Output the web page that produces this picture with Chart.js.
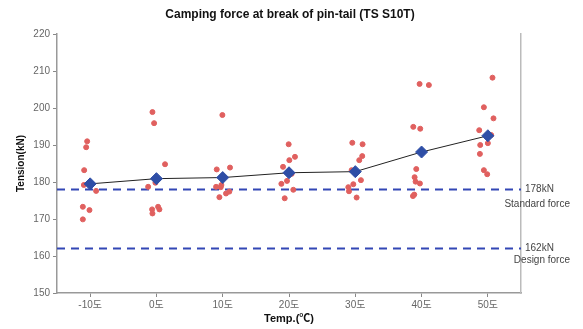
<!DOCTYPE html>
<html lang="ko">
<head>
<meta charset="UTF-8">
<title>Camping force at break of pin-tail</title>
<script src="https://cdn.jsdelivr.net/npm/chart.js"></script>
<style>
    body { margin: 0; background: #ffffff; }
    #wrap { width: 583px; height: 329px; }
</style>
</head>
<body>
<div id="wrap"><canvas id="chart"></canvas></div>
<script>
    const temps = [-10, 0, 10, 20, 30, 40, 50];
    const meanForce = [179.5, 180.9, 181.2, 182.5, 182.8, 188.1, 192.5];

    // individual test results, x = temperature as placed in the plot
    const samplesX = [
        -10.45, -10.6, -10.9, -10.95, -9.1, -11.1, -10.1, -11.1,
        -0.6, -0.35, 1.3, -1.25, -0.15, -0.65, 0.25, 0.45, -0.6,
        9.95, 9.1, 11.1, 9.0, 9.8, 9.7, 10.5, 11.0, 9.5,
        19.95, 20.9, 20.05, 19.1, 20.4, 19.7, 18.85, 20.65, 19.35,
        29.55, 31.1, 31.05, 30.6, 29.45, 30.85, 29.7, 28.95, 29.05, 30.2,
        39.7, 41.1, 38.75, 39.8, 39.2, 38.95, 39.1, 39.75, 38.9, 38.7,
        50.7, 49.4, 50.85, 48.7, 50.5, 48.85, 50.0, 48.8, 49.4, 49.9
    ];
    const samplesY = [
        191.0, 189.4, 183.2, 179.2, 177.6, 173.3, 172.4, 169.9,
        198.9, 195.9, 184.8, 178.7, 179.8, 172.6, 173.3, 172.6, 171.5,
        198.1, 183.4, 183.9, 178.7, 179.2, 178.6, 176.9, 177.4, 175.9,
        190.2, 186.8, 185.9, 184.1, 182.2, 180.3, 179.5, 177.9, 175.6,
        190.6, 190.2, 187.0, 185.9, 183.2, 180.5, 179.4, 178.6, 177.5, 175.8,
        206.5, 206.2, 194.9, 194.4, 183.5, 181.3, 180.1, 179.6, 176.6, 176.2,
        208.2, 200.2, 197.2, 194.0, 192.7, 190.0, 190.5, 187.6, 183.2, 182.1
    ];

    const standardForce = 178;
    const designForce = 162;
    const yTicks = [150, 160, 170, 180, 190, 200, 210, 220];

    const fontFam = "'Liberation Sans', Arial, 'Noto Sans CJK KR', sans-serif";

    const refLabels = {
        id: 'refLabels',
        afterDraw(chart) {
            const ctx = chart.ctx;
            const y = chart.scales.y;
            const area = chart.chartArea;
            ctx.save();
            // title
            ctx.fillStyle = '#111';
            ctx.font = 'bold 12px ' + fontFam;
            ctx.textAlign = 'center';
            ctx.textBaseline = 'middle';
            ctx.fillText('Camping force at break of pin-tail (TS S10T)', 290, 15);

            // reference line labels
            ctx.fillStyle = '#444';
            ctx.font = '10px ' + fontFam;
            ctx.textAlign = 'left';
            const ys = y.getPixelForValue(standardForce);
            const yd = y.getPixelForValue(designForce);
            ctx.fillText(standardForce + 'kN', area.right + 4, ys);
            ctx.fillText(designForce + 'kN', area.right + 4, yd);
            ctx.textAlign = 'right';
            ctx.fillText('Standard force', 570, ys + 15);
            ctx.fillText('Design force', 570, yd + 12);
            ctx.restore();
        }
    };

    const ctx = document.getElementById('chart').getContext('2d');
    new Chart(ctx, {
        data: {
            datasets: [
                {
                    type: 'line',
                    data: [{x: -15, y: standardForce}, {x: 55, y: standardForce}],
                    borderColor: '#3347b5',
                    borderWidth: 2,
                    borderDash: [8, 6],
                    pointRadius: 0,
                    order: 4
                },
                {
                    type: 'line',
                    data: [{x: -15, y: designForce}, {x: 55, y: designForce}],
                    borderColor: '#3347b5',
                    borderWidth: 2,
                    borderDash: [8, 6],
                    pointRadius: 0,
                    order: 4
                },
                {
                    type: 'scatter',
                    data: samplesX.map((x, i) => ({x: x, y: samplesY[i]})),
                    backgroundColor: '#e0605f',
                    borderColor: '#e0605f',
                    pointRadius: 2.5,
                    order: 3
                },
                {
                    type: 'line',
                    data: temps.map((t, i) => ({x: t, y: meanForce[i]})),
                    borderColor: '#222',
                    borderWidth: 1,
                    pointStyle: 'rectRot',
                    pointRadius: 6,
                    pointBackgroundColor: '#2e4ea6',
                    pointBorderColor: '#2e4ea6',
                    order: 1
                }
            ]
        },
        options: {
            responsive: true,
            maintainAspectRatio: false,
            animation: false,
            layout: { padding: { top: 34, right: 62, left: 0, bottom: 0 } },
            plugins: {
                legend: { display: false },
                tooltip: { enabled: false }
            },
            scales: {
                x: {
                    type: 'linear',
                    min: -15,
                    max: 55,
                    afterBuildTicks: axis => { axis.ticks = temps.map(v => ({value: v})); },
                    afterFit: axis => { axis.height = 36; },
                    grid: { drawOnChartArea: false, tickLength: 4, color: '#888' },
                    border: { color: '#999', width: 1.5 },
                    ticks: {
                        color: '#666',
                        font: { size: 10, family: fontFam },
                        padding: 2,
                        maxRotation: 0,
                        callback: v => v + '도'
                    },
                    title: {
                        display: true,
                        text: 'Temp.(℃)',
                        color: '#111',
                        font: { size: 11, weight: 'bold', family: fontFam },
                        padding: { top: 0, bottom: 3 }
                    }
                },
                y: {
                    min: 150,
                    max: 220,
                    afterBuildTicks: axis => { axis.ticks = yTicks.map(v => ({value: v})); },
                    afterFit: axis => { axis.width = 57; },
                    grid: { drawOnChartArea: false, tickLength: 4, color: '#888' },
                    border: { color: '#999', width: 1.5 },
                    ticks: {
                        color: '#666',
                        font: { size: 10, family: fontFam },
                        padding: 3
                    },
                    title: {
                        display: true,
                        text: 'Tension(kN)',
                        color: '#111',
                        font: { size: 10, weight: 'bold', family: fontFam },
                        padding: { top: 15, bottom: 0 }
                    }
                },
                y2: {
                    position: 'right',
                    min: 150,
                    max: 220,
                    afterFit: axis => { axis.width = 0; },
                    grid: { display: false },
                    border: { color: '#bbb', width: 1.5 },
                    ticks: { display: false }
                }
            }
        },
        plugins: [refLabels]
    });
</script>
</body>
</html>
